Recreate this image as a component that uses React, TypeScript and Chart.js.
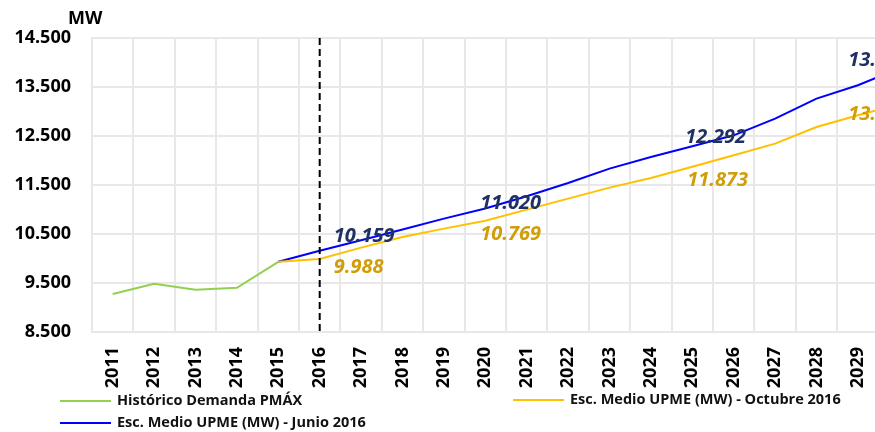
import React, { useEffect, useRef } from "react";
import { Chart, registerables } from "chart.js";

Chart.register(...registerables);

const years = [
  "2011", "2012", "2013", "2014", "2015", "2016", "2017", "2018", "2019", "2020",
  "2021", "2022", "2023", "2024", "2025", "2026", "2027", "2028", "2029", "2030",
];

const historico = [9274, 9484, 9362, 9402, 9932, null, null, null, null, null, null, null, null, null, null, null, null, null, null, null];

const octubre2016 = [null, null, null, null, 9932, 9988, 10222, 10439, 10610, 10769, 10998, 11222, 11447, 11643, 11873, 12106, 12345, 12684, 12922, 13145];

const junio2016 = [null, null, null, null, 9932, 10159, 10371, 10590, 10814, 11020, 11269, 11541, 11835, 12071, 12292, 12514, 12855, 13263, 13535, 13880];

const yMin = 8500;
const yMax = 14500;
const yStep = 1000;

const labeledYears = ["2016", "2020", "2025", "2030"];
const markerYear = "2016";

const seriesNames = [
  "Histórico Demanda PMÁX",
  "Esc. Medio UPME (MW) - Octubre 2016",
  "Esc. Medio UPME (MW) - Junio 2016",
];

const GREEN = "#92D050";
const YELLOW = "#FFC000";
const BLUE = "#0000FF";
const BLUE_TEXT = "#1F3164";
const YELLOW_TEXT = "#D09E08";
const FONT = "'Open Sans', sans-serif";

const fmt = (v: number) => String(v).replace(/\B(?=(\d{3})+(?!\d))/g, ".");

// label offsets (dx from point to text left, dy from point to text middle)
const blueLabelOffsets = [[14, -14], [-5, -5], [-7, -9], [-51, -8]];
const yellowLabelOffsets = [[14, 8], [-5, 13], [-5, 14], [-51, 10]];

const overlayPlugin = {
  id: "overlay",
  afterDatasetsDraw(chart: any) {
    const { ctx, chartArea, scales } = chart;
    const x = scales.x;
    const y = scales.y;
    ctx.save();

    // dashed marker line
    const mx = x.getPixelForValue(years.indexOf(markerYear));
    ctx.beginPath();
    ctx.setLineDash([7, 4]);
    ctx.lineWidth = 2;
    ctx.strokeStyle = "#000";
    ctx.moveTo(mx, chartArea.top);
    ctx.lineTo(mx, chartArea.bottom);
    ctx.stroke();
    ctx.setLineDash([]);

    // data labels
    ctx.font = `italic bold 20px ${FONT}`;
    ctx.textAlign = "left";
    ctx.textBaseline = "middle";
    labeledYears.forEach((yr, i) => {
      const idx = years.indexOf(yr);
      const px = x.getPixelForValue(idx);
      const vb = junio2016[idx] as number;
      const vy = octubre2016[idx] as number;
      ctx.fillStyle = BLUE_TEXT;
      ctx.fillText(fmt(vb), px + blueLabelOffsets[i][0], y.getPixelForValue(vb) + blueLabelOffsets[i][1]);
      ctx.fillStyle = YELLOW_TEXT;
      ctx.fillText(fmt(vy), px + yellowLabelOffsets[i][0], y.getPixelForValue(vy) + yellowLabelOffsets[i][1]);
    });

    // unit
    ctx.font = `bold 18px ${FONT}`;
    ctx.fillStyle = "#000";
    ctx.fillText("MW", chartArea.left - 24, chartArea.top - 19);

    // legend
    const items = [
      { color: GREEN, name: seriesNames[0], lx: 60, ly: 401 },
      { color: YELLOW, name: seriesNames[1], lx: 513, ly: 400 },
      { color: BLUE, name: seriesNames[2], lx: 60, ly: 423 },
    ];
    ctx.font = `bold 14.5px ${FONT}`;
    items.forEach((it) => {
      ctx.beginPath();
      ctx.strokeStyle = it.color;
      ctx.lineWidth = 2;
      ctx.moveTo(it.lx, it.ly);
      ctx.lineTo(it.lx + 51, it.ly);
      ctx.stroke();
      ctx.fillStyle = "#111";
      ctx.fillText(it.name, it.lx + 57, it.ly);
    });
    ctx.restore();
  },
};

export default function App() {
  const ref = useRef<HTMLCanvasElement | null>(null);

  useEffect(() => {
    if (!ref.current) return;
    const chart = new Chart(ref.current, {
      type: "line",
      data: {
        labels: years,
        datasets: [
          { label: seriesNames[0], data: historico, borderColor: GREEN, backgroundColor: GREEN, borderWidth: 2, pointRadius: 0, tension: 0 },
          { label: seriesNames[1], data: octubre2016, borderColor: YELLOW, backgroundColor: YELLOW, borderWidth: 2, pointRadius: 0, tension: 0 },
          { label: seriesNames[2], data: junio2016, borderColor: BLUE, backgroundColor: BLUE, borderWidth: 2, pointRadius: 0, tension: 0 },
        ],
      },
      options: {
        responsive: false,
        animation: false,
        layout: { padding: { left: 0, top: 38, right: 4, bottom: 0 } },
        plugins: { legend: { display: false }, tooltip: { enabled: false } },
        scales: {
          x: {
            offset: true,
            afterFit: (axis: any) => { axis.height = 100; },
            grid: { color: "#E8E8E8", lineWidth: 2, drawTicks: false, offset: true },
            border: { color: "#E8E8E8", width: 2 },
            ticks: {
              autoSkip: false,
              minRotation: 90,
              maxRotation: 90,
              padding: 15,
              color: "#000",
              font: { family: FONT, weight: "bold", size: 18 },
            },
          },
          y: {
            min: yMin,
            max: yMax,
            afterFit: (axis: any) => { axis.width = 92; },
            grid: { color: "#E8E8E8", lineWidth: 2, drawTicks: false },
            border: { color: "#E8E8E8", width: 2 },
            ticks: {
              stepSize: yStep,
              padding: 21,
              color: "#000",
              font: { family: FONT, weight: "bold", size: 18 },
              callback: (v: any) => fmt(Number(v)),
            },
          },
        },
      },
      plugins: [overlayPlugin],
    } as any);
    return () => chart.destroy();
  }, []);

  return (
    <div style={{ position: "fixed", left: 0, top: 0, width: 875, height: 432, overflow: "hidden", background: "#fff" }}>
      <canvas ref={ref} width={936} height={432} style={{ display: "block", width: 936, height: 432 }} />
    </div>
  );
}
